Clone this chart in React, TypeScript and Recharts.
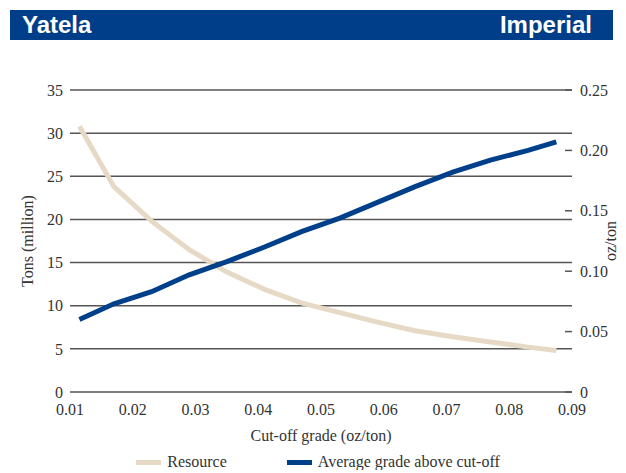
import {
  LineChart,
  Line,
  XAxis,
  YAxis,
  CartesianGrid,
  Legend,
} from "recharts";

// cut-off grade (oz/ton)
const cutoff = [0.0115, 0.017, 0.023, 0.029, 0.035, 0.041, 0.047, 0.053, 0.059, 0.065, 0.071, 0.077, 0.083, 0.0875];
// tons (million)
const resource = [30.8, 23.8, 19.8, 16.5, 13.9, 11.9, 10.3, 9.2, 8.1, 7.1, 6.4, 5.8, 5.2, 4.8];
// oz/ton
const avgGrade = [0.06, 0.073, 0.083, 0.097, 0.108, 0.12, 0.133, 0.144, 0.157, 0.17, 0.182, 0.192, 0.2, 0.207];

const xTicks = [0.01, 0.02, 0.03, 0.04, 0.05, 0.06, 0.07, 0.08, 0.09];
const leftTicks = [0, 5, 10, 15, 20, 25, 30, 35];
const rightTicks = [0, 0.05, 0.1, 0.15, 0.2, 0.25];

const data = cutoff.map((g, i) => ({
  grade: g,
  resource: resource[i],
  avgGrade: avgGrade[i],
}));

const BEIGE = "#e6dac6";
const BLUE = "#003f8a";
const GRID = "#555555";
const TEXT = "#333333";
const SERIF = "'Liberation Serif', 'Times New Roman', serif";

const fmtRight = (v: number) => (v === 0 ? "0" : v.toFixed(2));

function RightTick(props: any) {
  const { x, y, payload } = props;
  return (
    <g>
      <line x1={x - 7} x2={x} y1={y} y2={y} stroke={GRID} strokeWidth={1.5} />
      <text x={x + 8} y={y} dy="0.355em" textAnchor="start" fill={TEXT} fontSize={16} fontFamily={SERIF}>
        {fmtRight(payload.value)}
      </text>
    </g>
  );
}

function LegendBox() {
  const item = (color: string, label: string) => (
    <span style={{ display: "inline-flex", alignItems: "center" }}>
      <span style={{ display: "inline-block", width: 25, height: 5, background: color, marginRight: 6 }} />
      <span>{label}</span>
    </span>
  );
  return (
    <div
      style={{
        display: "flex",
        justifyContent: "center",
        gap: 60,
        fontFamily: SERIF,
        fontSize: 16,
        lineHeight: "16px",
        color: TEXT,
        paddingLeft: 2,
      }}
    >
      {item(BEIGE, "Resource")}
      {item(BLUE, "Average grade above cut-off")}
    </div>
  );
}

export default function App() {
  return (
    <div style={{ width: 618 }}>
      <div
        style={{
          marginTop: 2,
          marginLeft: 2,
          width: 603,
          height: 30,
          background: "#003e89",
          color: "#ffffff",
          fontFamily: "'Liberation Sans', Arial, sans-serif",
          fontWeight: "bold",
          fontSize: 24,
          display: "flex",
          justifyContent: "space-between",
          alignItems: "center",
          padding: "0 21px 0 12px",
          boxSizing: "border-box",
        }}
      >
        <span>Yatela</span>
        <span>Imperial</span>
      </div>
      <LineChart
        width={618}
        height={430}
        data={data}
        margin={{ top: 50, right: 0, bottom: 0, left: 0 }}
        style={{ fontFamily: SERIF }}
      >
        <CartesianGrid
          yAxisId="left"
          vertical={false}
          stroke={GRID}
          strokeWidth={1.5}
        />
        <XAxis
          dataKey="grade"
          type="number"
          domain={[0.01, 0.09]}
          ticks={xTicks}
          tickFormatter={(v: number) => v.toFixed(2)}
          axisLine={false}
          tickLine={false}
          tickSize={0}
          tickMargin={12}
          height={62}
          tick={{ fill: TEXT, fontSize: 16, fontFamily: SERIF }}
          label={{
            value: "Cut-off grade (oz/ton)",
            position: "insideBottom",
            offset: 13,
            fill: TEXT,
            fontSize: 16,
            fontFamily: SERIF,
          }}
        />
        <YAxis
          yAxisId="left"
          domain={[0, 35]}
          ticks={leftTicks}
          width={62}
          axisLine={false}
          tickLine={false}
          tickSize={0}
          tickMargin={7}
          tick={{ fill: TEXT, fontSize: 16, fontFamily: SERIF }}
          label={{
            value: "Tons (million)",
            angle: -90,
            position: "insideLeft",
            offset: 19,
            style: { textAnchor: "middle" },
            fill: TEXT,
            fontSize: 16,
            fontFamily: SERIF,
          }}
        />
        <YAxis
          yAxisId="right"
          orientation="right"
          domain={[0, 0.25]}
          ticks={rightTicks}
          width={54}
          axisLine={false}
          tickLine={false}
          tickSize={0}
          tickMargin={0}
          tick={<RightTick />}
          label={{
            value: "oz/ton",
            angle: -90,
            position: "insideRight",
            offset: 16,
            style: { textAnchor: "middle" },
            fill: TEXT,
            fontSize: 16,
            fontFamily: SERIF,
          }}
        />
        <Legend verticalAlign="bottom" height={16} content={<LegendBox />} />
        <Line
          yAxisId="left"
          type="linear"
          dataKey="resource"
          name="Resource"
          stroke={BEIGE}
          strokeWidth={5}
          dot={false}
          isAnimationActive={false}
        />
        <Line
          yAxisId="right"
          type="linear"
          dataKey="avgGrade"
          name="Average grade above cut-off"
          stroke={BLUE}
          strokeWidth={5}
          dot={false}
          isAnimationActive={false}
        />
      </LineChart>
    </div>
  );
}
